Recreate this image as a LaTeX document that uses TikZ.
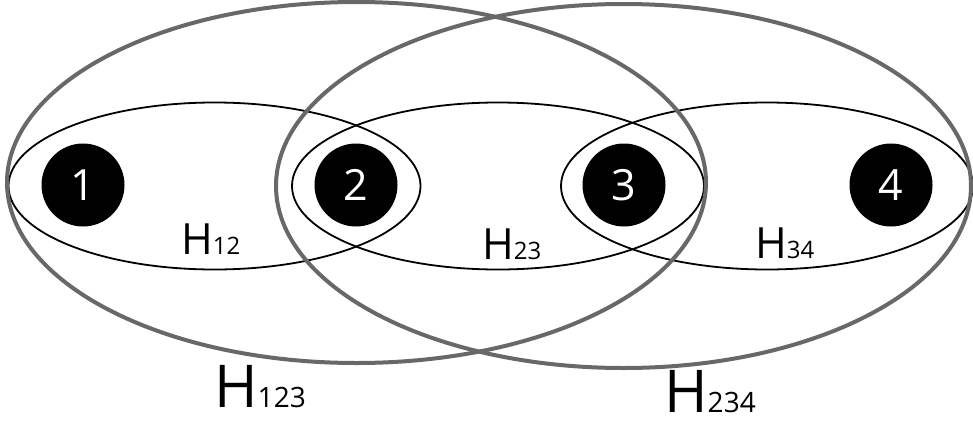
\documentclass[tikz,border=0pt]{standalone}
\usepackage{fontspec}
\setmainfont{Open Sans}
\usetikzlibrary{shapes.geometric}
\definecolor{hgray}{RGB}{104,104,104}
\begin{document}
\begin{tikzpicture}[x=1pt,y=-1pt,
  pairedge/.style={ellipse,draw=black,line width=1.8pt,inner sep=0pt,outer sep=0pt,
    minimum width=412pt,minimum height=167pt},
  tripleedge/.style={ellipse,draw=hgray,line width=4pt,inner sep=0pt,outer sep=0pt},
  vertex/.style={circle,fill=black,text=white,inner sep=0pt,minimum size=83pt,
    font=\fontsize{43}{43}\selectfont},
  smalllabel/.style={anchor=base west,inner sep=0pt,text depth=0pt,font=\fontsize{43}{43}\selectfont},
  biglabel/.style={anchor=base west,inner sep=0pt,text depth=0pt,font=\fontsize{59}{59}\selectfont}]
\useasboundingbox (0,0) rectangle (973,423);
\fill[white] (0,0) rectangle (973,423);
% pair hyperedges
\node[pairedge] (e12) at (214.5,186) {};
\node[pairedge] (e23) at (498,186) {};
\node[pairedge] (e34) at (767,186) {};
% triple hyperedges
\node[tripleedge,minimum width=699pt,minimum height=361pt] (e123) at (356.5,182.5) {};
\node[tripleedge,minimum width=695pt,minimum height=364pt] (e234) at (623.5,186) {};
% vertices
\node[vertex] (v1) at (83,185) {1};
\node[vertex] (v2) at (356,185) {2};
\node[vertex] (v3) at (624,185) {3};
\node[vertex] (v4) at (891,185) {4};
% labels
\node[smalllabel] (l12) at (181,254) {H{\fontsize{24}{24}\selectfont 12}};
\node[smalllabel] (l23) at (482,259) {H{\fontsize{24}{24}\selectfont 23}};
\node[smalllabel] (l34) at (755,258) {H{\fontsize{24}{24}\selectfont 34}};
\node[biglabel] (l123) at (214,407) {H{\fontsize{28}{28}\selectfont 123}};
\node[biglabel] (l234) at (664,412) {H{\fontsize{28}{28}\selectfont 234}};
\end{tikzpicture}
\end{document}
